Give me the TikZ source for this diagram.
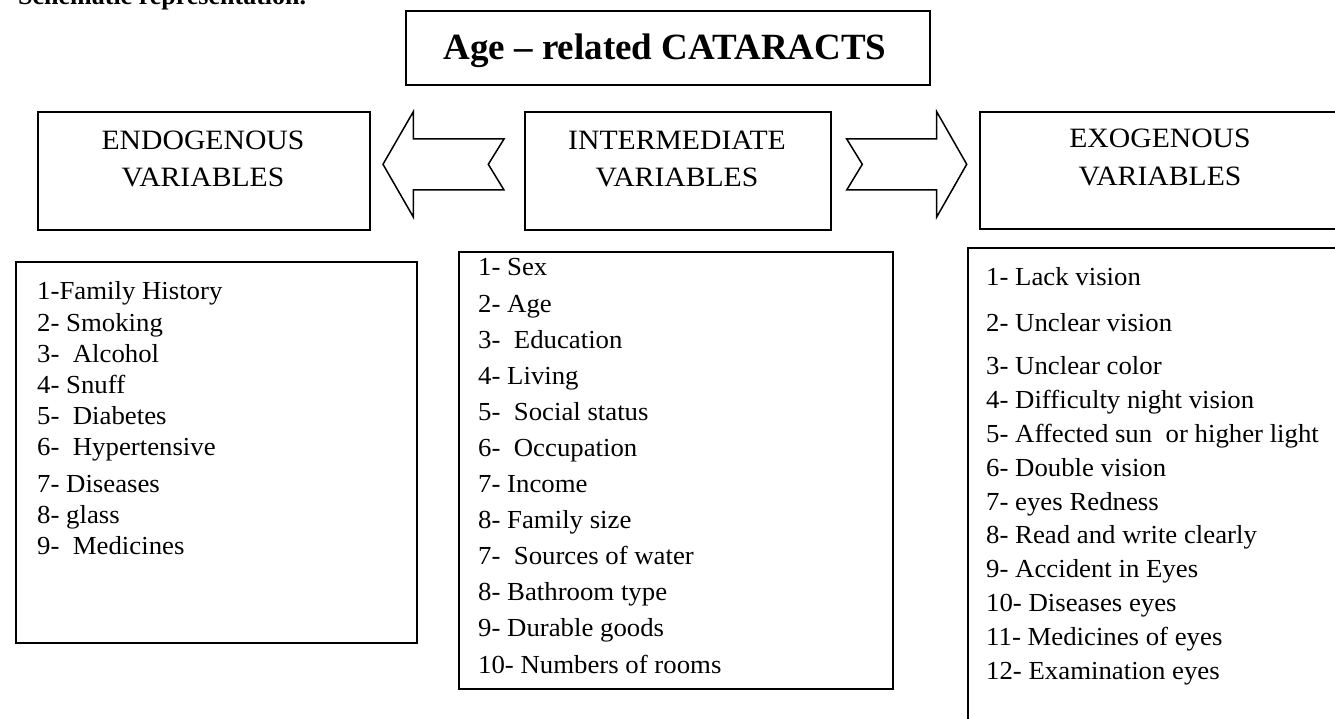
\documentclass[tikz,border=0pt]{standalone}
\usepackage{fontspec}
\setmainfont{Liberation Serif}
\newfontfamily\titlefont{Liberation Serif}
\newfontfamily\hdrfont[FakeStretch=1.06]{Liberation Serif}
\newfontfamily\lstfont[FakeStretch=1.03]{Liberation Serif}
\begin{document}
\begin{tikzpicture}[x=1pt,y=-1pt,
  box/.style={draw, line width=1.7pt, inner sep=0pt, anchor=north west},
  hdr/.style={anchor=base, inner sep=0pt, font=\hdrfont\fontsize{28}{30}\selectfont},
  item/.style={anchor=base west, inner sep=0pt, font=\lstfont\fontsize{26}{28}\selectfont},
  bigarrow/.style={draw, line width=1.5pt, line join=miter}]
\useasboundingbox (0,0) rectangle (1335,719);
\clip (0,0) rectangle (1335,719);

% caption clipped at the top
\node[anchor=base west, inner sep=0pt, font=\bfseries\fontsize{26}{28}\selectfont] (cap) at (18,4.5) {Schematic representation.};

% boxes
\node[box, minimum width=524pt, minimum height=74pt] (title) at (405,10) {};
\node[anchor=base, inner sep=0pt, font=\titlefont\bfseries\fontsize{37}{40}\selectfont] (titletext) at (665,60) {Age – related CATARACTS};

\node[box, minimum width=332pt, minimum height=118pt] (endo) at (37,111) {};
\node[box, minimum width=306pt, minimum height=118pt] (inter) at (524,111) {};
\node[box, minimum width=362pt, minimum height=117pt] (exo) at (979,111) {};

\node[hdr] (endo1) at (203,150) {ENDOGENOUS};
\node[hdr] (endo2) at (203,187) {VARIABLES};
\node[hdr] (inter1) at (677,150) {INTERMEDIATE};
\node[hdr] (inter2) at (677,187) {VARIABLES};
\node[hdr] (exo1) at (1160,148) {EXOGENOUS};
\node[hdr] (exo2) at (1160,186) {VARIABLES};

% block arrows
\draw[bigarrow] (383,164.3) -- (413.3,111.7) -- (413.3,139) -- (504,139) -- (488.3,164.3)
  -- (504,190) -- (413.3,190) -- (413.3,217) -- cycle;
\draw[bigarrow] (846.7,139) -- (936.7,139) -- (936.7,111.7) -- (966.7,164.3) -- (936.7,217)
  -- (936.7,190) -- (846.7,190) -- (862.3,164.3) -- cycle;

% list boxes
\node[box, minimum width=401pt, minimum height=381pt] (llist) at (15,261) {};
\node[box, minimum width=434pt, minimum height=437pt] (mlist) at (458,251) {};
\node[box, minimum width=380pt, minimum height=500pt] (rlist) at (967,247) {};

% left list
\foreach \t/\y [count=\i] in {{1-Family History}/299, {2- Smoking}/331, {3-~ Alcohol}/362,
  {4- Snuff}/393, {5-~ Diabetes}/424, {6-~ Hypertensive}/455, {7- Diseases}/492,
  {8- glass}/523, {9-~ Medicines}/554}
  \node[item] (l\i) at (37,\y) {\t};

% middle list
\foreach \t/\y [count=\i] in {{1- Sex}/276, {2- Age}/312, {3-~ Education}/348,
  {4- Living}/384, {5-~ Social status}/420, {6-~ Occupation}/456, {7- Income}/492,
  {8- Family size}/528, {7-~ Sources of water}/564, {8- Bathroom type}/600,
  {9- Durable goods}/636, {10- Numbers of rooms}/673}
  \node[item] (m\i) at (478,\y) {\t};

% right list
\foreach \t/\y [count=\i] in {{1- Lack vision}/285, {2- Unclear vision}/331, {3- Unclear color}/374,
  {4- Difficulty night vision}/408, {5- Affected sun~ or higher light}/442, {6- Double vision}/476,
  {7- eyes Redness}/510, {8- Read and write clearly}/543, {9- Accident in Eyes}/577,
  {10- Diseases eyes}/611, {11- Medicines of eyes}/645, {12- Examination eyes}/679}
  \node[item] (r\i) at (986,\y) {\t};
\end{tikzpicture}
\end{document}
